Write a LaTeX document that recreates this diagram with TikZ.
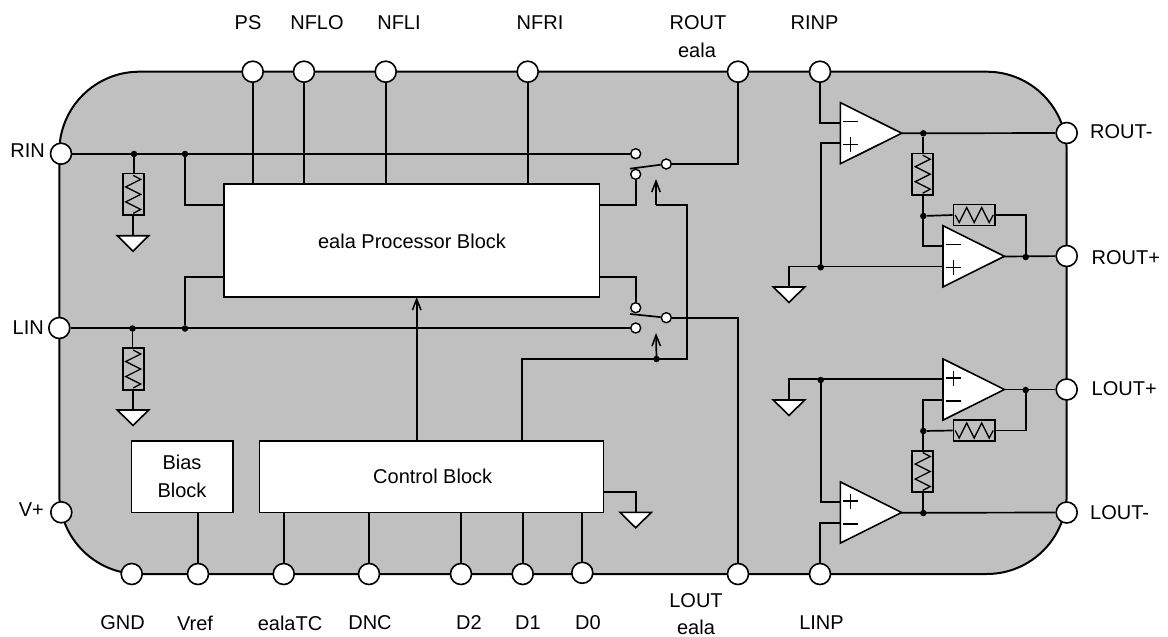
\documentclass[tikz,border=0pt]{standalone}
\usepackage{fontspec}
\setmainfont{Liberation Sans}
\usetikzlibrary{arrows.meta,calc}
\definecolor{bodygrey}{HTML}{C0C0C0}
\tikzset{
  wire/.style={line width=1.7pt,line join=miter},
  pin/.style={circle,draw=black,fill=white,line width=1.6pt,minimum size=21pt,inner sep=0pt},
  contact/.style={circle,draw=black,fill=white,line width=1.4pt,minimum size=10pt,inner sep=0pt},
  dotj/.style={circle,fill=black,draw=none,minimum size=6.5pt,inner sep=0pt},
  blockbox/.style={rectangle,draw=black,fill=white,line width=1.6pt,inner sep=0pt,align=center,font=\fontsize{20}{28}\selectfont},
  lab/.style={inner sep=0pt,font=\fontsize{20}{24}\selectfont},
  resbox/.style={rectangle,draw=black,fill=bodygrey,line width=1.7pt,inner sep=0pt},
  ctl/.style={wire,-{Straight Barb[length=11pt,width=8.5pt,line width=1.5pt]}},
  ampbody/.style={draw=black,fill=white,line width=1.6pt,line join=miter},
}
\newcommand{\vres}[3]{%
  \node[resbox,minimum width=21pt,minimum height=41.6pt] (#1) at (#2,#3) {};
  \draw[line width=1.3pt,shift={(#1.center)}] (0,-19)--(7.5,-15)--(-7.5,-7.5)--(7.5,0)--(-7.5,7.5)--(7.5,15)--(0,19);
}
\newcommand{\hres}[3]{%
  \node[resbox,minimum width=41.6pt,minimum height=21pt] (#1) at (#2,#3) {};
  \draw[line width=1.3pt,shift={(#1.center)}] (-19,0)--(-15,7.5)--(-7.5,-7.5)--(0,7.5)--(7.5,-7.5)--(15,7.5)--(19,0);
}
\newcommand{\gnd}[3]{%
  \coordinate (#1) at (#2,#3);
  \draw[ampbody] (#1) ++(-15.7,0) -- ++(31.4,0) -- ++(-15.7,15.5) -- cycle;
}
% name, left x, centre y, sign (+1: minus on top, -1: plus on top)
\newcommand{\opamp}[4]{%
  \coordinate (#1) at (#2,#3);
  \draw[ampbody] (#2,#3-30.6) -- (#2+61.4,#3) -- (#2,#3+30.6) -- cycle;
  \draw[line width=1.3pt] (#2+3,#3-#4*11.5) -- (#2+18,#3-#4*11.5);
  \draw[line width=1.3pt] (#2+3,#3+#4*11.5) -- (#2+18,#3+#4*11.5);
  \draw[line width=1.3pt] (#2+10.5,#3+#4*11.5-7.5) -- (#2+10.5,#3+#4*11.5+7.5);
}
\begin{document}
\begin{tikzpicture}[x=1pt,y=-1pt]
\useasboundingbox (0,0) rectangle (1168,637);
\node[rectangle,draw=black,fill=bodygrey,line width=2pt,rounded corners=80pt,minimum width=1007.4pt,minimum height=502.3pt,inner sep=0pt] (body) at (563,322.85) {};

% blocks
\node[blockbox,minimum width=375.6pt,minimum height=113pt] (proc) at (411.5,240.5) {};
\node[lab] (proclab) at (412,241) {eala Processor Block};
\node[blockbox,minimum width=101.4pt,minimum height=71.6pt] (bias) at (182,476.5) {Bias\\Block};
\node[blockbox,minimum width=344pt,minimum height=71.6pt] (ctrl) at (431.3,476.5) {};
\node[lab] (ctrllab) at (432.7,476) {Control Block};

% pins
\foreach \n/\x/\y in {PS/252.7/71.7,NFLO/304/71.7,NFLI/385.7/71.7,NFRI/527.7/71.7,ROUT/738/71.7,RINP/820/71.7,
  GND/131.7/574,Vref/198/574,TC/283.7/574,DNC/369/574,Dtwo/461/574,Done/522.7/574,Dzero/582.3/572.8,LOUT/738/574,LINP/820/574,
  RIN/61/153.7,LIN/59.3/328,Vp/61.3/512.3,ROm/1066.7/133,ROp/1066.7/256,LOp/1066.7/389.5,LOm/1066.7/512.5}
  {\node[pin] (p\n) at (\x,\y) {};}

% junctions
\foreach \n/\x/\y in {ja/134/154,jb/185/154,jc/132.5/328.5,jd/185/328.5,je/656.5/359,
  jf/820.7/267.3,jg/923.3/133.3,jh/923.3/216,ji/1025.7/257,
  jj/820.7/380,jk/923.3/431,jl/923.3/513,jm/1025.7/390}
  {\node[dotj] (\n) at (\x,\y) {};}

% switch contacts
\foreach \n/\x/\y in {sa/635.7/153.7,sb/635.7/174.3,sc/666.3/164,sd/635.7/307.7,se/635.7/328,sf/666.3/317.7}
  {\node[contact] (\n) at (\x,\y) {};}

% pins to processor and control
\foreach \n in {PS,NFLO,NFLI,NFRI}
  {\draw[wire] (p\n) -- (p\n |- proc.north);}
\draw[wire] (bias.south -| pVref) -- (pVref);
\foreach \n in {TC,DNC,Dtwo,Done,Dzero}
  {\draw[wire] (ctrl.south -| p\n) -- (p\n);}

% inputs
\draw[wire] (pRIN) -- (sa);
\draw[wire] (pLIN) -- (se);
\draw[wire] (jb) |- (proc.west |- 0,205);
\draw[wire] (jd) |- (proc.west |- 0,276.7);

% switches
\coordinate (la) at (630,168.7);
\coordinate (lb) at (630,314);
\draw[wire] (la) -- (sc);
\draw[wire] (lb) -- (sf);
\draw[wire] (sc) -- (pROUT |- sc) -- (pROUT);
\draw[wire] (sf) -- (pLOUT |- sf) -- (pLOUT);
\draw[wire] (proc.east |- 0,205) -| (sb);
\draw[wire] (proc.east |- 0,276.7) -| (sd);

% control
\coordinate (ctop) at (416.7,440.7);
\coordinate (cup) at (416.7,297);
\draw[ctl] (ctop) -- (cup);
\coordinate (cb) at (522.3,440.7);
\coordinate (cr) at (687,358.7);
\coordinate (ch) at (687,205);
\coordinate (aa) at (656,179);
\coordinate (ab) at (656,333);
\draw[wire] (cb) |- (cr) -- (ch) -- (656,205);
\draw[ctl] (656,205) -- (aa);
\draw[ctl] (je.center) -- (ab);

% input resistors and grounds
\vres{ra}{133.2}{194.4}
\vres{rb}{133.2}{369}
\gnd{ga}{133}{235.7}
\gnd{gb}{133}{410}
\draw[wire] (ja |- ra.north) -- (ja);
\draw[wire] (ga) -- (ga |- ra.south);
\draw[wire] (jc |- rb.north) -- (jc);
\draw[wire] (gb) -- (gb |- rb.south);

% control block ground
\gnd{gc}{635.7}{512.3}
\draw[wire] (ctrl.east |- 0,491.7) -| (gc);

% right channel
\draw[wire] (pROm) -- (901.7,133.3);
\draw[wire] (pROp) -- (1004.3,256.5);
\draw[wire] (pRINP) |- (840.3,123);
\draw[wire] (840.3,143) -| (jf);
\gnd{gd}{789}{287}
\draw[wire] (gd) |- (943,266.5);
\vres{rc}{922.7}{174.2}
\draw[wire] (jg) -- (jg |- rc.north);
\draw[wire] (jg |- rc.south) -- (jh);
\hres{rd}{974.2}{215}
\draw[wire] (jh) -- (rd.west);
\draw[wire] (rd.east) -| (ji);
\draw[wire] (jh) |- (943,245.7);
\opamp{aone}{840.3}{133.2}{1}
\opamp{atwo}{943}{256.3}{1}

% left channel
\draw[wire] (pLOp) -- (1004.3,389.5);
\draw[wire] (pLOm) -- (901.7,512.8);
\draw[wire] (pLINP) |- (840.3,522.7);
\draw[wire] (840.3,502) -| (jj);
\gnd{ge}{789}{400}
\draw[wire] (ge) |- (943,379.3);
\vres{re}{922.7}{471.5}
\draw[wire] (jl) -- (jl |- re.south);
\draw[wire] (jl |- re.north) -- (jk);
\hres{rf}{974.2}{430.5}
\draw[wire] (jk) -- (rf.west);
\draw[wire] (rf.east) -| (jm);
\draw[wire] (jk) |- (943,400);
\opamp{athree}{943}{389.5}{-1}
\opamp{afour}{840.3}{512.5}{-1}

% labels
\node[lab] (lPS) at (248,23) {PS};
\node[lab] (lNFLO) at (317,23) {NFLO};
\node[lab] (lNFLI) at (399,23) {NFLI};
\node[lab] (lNFRI) at (540,23) {NFRI};
\node[lab] (lROUT) at (698,23) {ROUT};
\node[lab,anchor=base] (lROUTb) at (697,57) {eala};
\node[lab] (lRINP) at (814.5,23) {RINP};
\node[lab,anchor=east] (lRIN) at (45,151) {RIN};
\node[lab,anchor=east] (lLIN) at (44,328) {LIN};
\node[lab,anchor=east] (lV) at (44,510) {V+};
\node[lab,anchor=west] (lROm) at (1090,132) {ROUT-};
\node[lab,anchor=west] (lROp) at (1091.5,258) {ROUT+};
\node[lab,anchor=west] (lLOp) at (1091.5,389) {LOUT+};
\node[lab,anchor=west] (lLOm) at (1090,513) {LOUT-};
\node[lab] (lGND) at (122.5,623) {GND};
\node[lab] (lVref) at (195,623) {Vref};
\node[lab] (lTC) at (290,623) {ealaTC};
\node[lab] (lDNC) at (370,623) {DNC};
\node[lab] (lD2) at (469,623) {D2};
\node[lab] (lD1) at (528,623) {D1};
\node[lab] (lD0) at (588,623) {D0};
\node[lab] (lLOUT) at (696,600.5) {LOUT};
\node[lab,anchor=base] (lLOUTb) at (696,634) {eala};
\node[lab] (lLINP) at (821.5,623) {LINP};
\end{tikzpicture}
\end{document}
